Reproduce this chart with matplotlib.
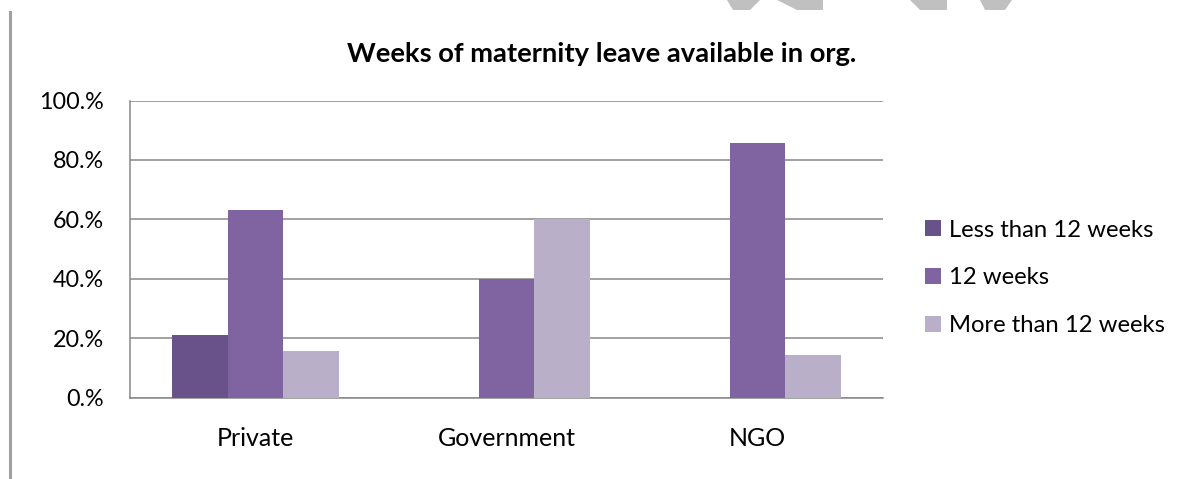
import matplotlib
matplotlib.use('Agg')
import matplotlib.pyplot as plt
from matplotlib.patches import Polygon
from matplotlib.lines import Line2D
import numpy as np

# Chart data
categories = ['Private', 'Government', 'NGO']
series_names = ['Less than 12 weeks', '12 weeks', 'More than 12 weeks']
less_than_12 = [21.05, 0.0, 0.0]
twelve_weeks = [63.16, 40.0, 85.71]
more_than_12 = [15.79, 60.0, 14.29]
ytick_values = [0, 20, 40, 60, 80, 100]
ytick_labels = ['0.%', '20.%', '40.%', '60.%', '80.%', '100.%']

colors = ['#69518A', '#8064A2', '#B9AFC9']
grid_color = '#888888'

W, H = 1188, 479
plt.rcParams['font.family'] = ['Lato', 'DejaVu Sans']

fig = plt.figure(figsize=(W / 100, H / 100), dpi=100)
ax = fig.add_axes([130 / W, 1 - 397.5 / H, (883 - 130) / W, (397.5 - 100.5) / H])

x = np.arange(len(categories))
bw = 0.223
bars = []
for i, vals in enumerate([less_than_12, twelve_weeks, more_than_12]):
    b = ax.bar(x + (i - 1) * bw, vals, bw, color=colors[i], label=series_names[i], zorder=3)
    bars.append(b)

ax.set_xlim(-0.5, len(categories) - 0.5)
ax.set_ylim(0, 100)
ax.set_yticks(ytick_values)
ax.set_yticklabels(ytick_labels)
ax.set_xticks(x)
ax.set_xticklabels(categories)
ax.tick_params(axis='y', length=0, pad=19, labelsize=16.8, colors='black')
ax.tick_params(axis='x', length=0, pad=21.5, labelsize=18, colors='black')

ax.yaxis.grid(True, color=grid_color, linewidth=1.1, zorder=0)
ax.set_axisbelow(True)
for s in ['top', 'right']:
    ax.spines[s].set_visible(False)
for s in ['left', 'bottom']:
    ax.spines[s].set_color(grid_color)
    ax.spines[s].set_linewidth(1.1)

# Title
fig.text(601.5 / W, 1 - 62 / H, 'Weeks of maternity leave available in org.',
         ha='center', va='baseline', fontsize=19.7, fontweight='bold')

# Legend
ax.legend(handles=bars, loc='center left', bbox_to_anchor=(925 / W, 1 - 278 / H),
          bbox_transform=fig.transFigure, frameon=False, fontsize=17.2,
          handlelength=0.65, handleheight=0.65, handletextpad=0.35,
          labelspacing=1.13, borderpad=0, borderaxespad=0)

# Page border line on the left
fig.add_artist(Line2D([9.5 / W, 9.5 / W], [1 - 12 / H, 1 - 478 / H],
                      transform=fig.transFigure, color='#A0A0A0', linewidth=2.2))

# Watermark fragments at the top edge
shapes = [
    [(727, 0), (760, 0), (750, 10), (733, 10)],
    [(777, 0), (823, 0), (823, 10), (797, 10)],
    [(910, 0), (947, 0), (947, 10), (920, 10)],
    [(980, 0), (1012, 0), (1005, 10), (985, 10)],
]
for pts in shapes:
    fig.add_artist(Polygon([(px / W, 1 - py / H) for px, py in pts], closed=True,
                           transform=fig.transFigure, facecolor='#C0C0C0',
                           edgecolor='none'))

fig.savefig('out.png', dpi=100)
